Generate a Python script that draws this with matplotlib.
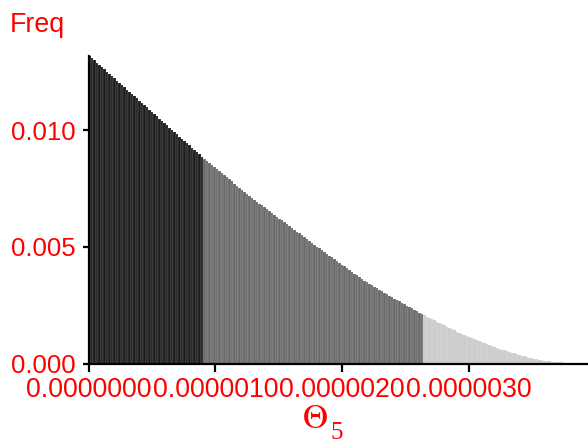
import numpy as np
import matplotlib
matplotlib.use("Agg")
import matplotlib.pyplot as plt

plt.rcParams["font.family"] = ["Liberation Sans", "DejaVu Sans"]
plt.rcParams["mathtext.fontset"] = "stix"

# Histogram of Theta_5: 200 equal-width bins starting at zero
x_max = 0.000003936
n_bins = 200

# Bin heights, in units of 1e-4
freq_e4 = [
    131.70, 130.74, 129.78, 128.83, 127.87, 126.91, 125.95, 124.99, 124.04, 123.08,
    122.12, 121.16, 120.20, 119.25, 118.29, 117.33, 116.37, 115.41, 114.46, 113.50,
    112.54, 111.58, 110.62, 109.67, 108.71, 107.75, 106.79, 105.83, 104.88, 103.92,
    102.96, 102.00, 101.04, 100.09, 99.13, 98.17, 97.21, 96.25, 95.30, 94.34,
    93.38, 92.42, 91.46, 90.51, 89.55, 88.59,
    87.64, 86.76, 85.88, 85.00, 84.12, 83.24, 82.35, 81.47, 80.59, 79.71,
    78.83, 77.95, 77.07, 76.19, 75.31, 74.43, 73.54, 72.66, 71.78, 70.90,
    70.08, 69.28, 68.48, 67.68, 66.88, 66.08, 65.28, 64.48, 63.68, 62.88,
    62.08, 61.28, 60.48, 59.68, 58.88, 58.08, 57.28, 56.48, 55.68, 54.88,
    54.08, 53.28, 52.48, 51.68, 50.88, 50.08,
    49.26, 48.49, 47.72, 46.96, 46.19, 45.42, 44.65, 43.88, 43.12, 42.35,
    41.58, 40.81, 40.04, 39.28, 38.51, 37.74, 36.97, 36.20,
    35.48, 34.84, 34.20, 33.56, 32.92, 32.28, 31.64, 31.00, 30.36, 29.72,
    29.08, 28.44, 27.80,
    27.18, 26.58, 25.99, 25.39, 24.79, 24.20, 23.60, 23.00, 22.40, 21.81, 21.21,
    20.59, 20.06, 19.52, 18.99, 18.46, 17.92, 17.39, 16.86, 16.33, 15.79,
    15.26, 14.73, 14.19, 13.66, 13.13, 12.60,
    12.08, 11.65, 11.23, 10.80, 10.37, 9.95, 9.52, 9.09, 8.66, 8.24,
    7.81, 7.38, 6.96, 6.53,
    6.23, 5.91, 5.59, 5.27, 4.95, 4.63, 4.31, 3.99, 3.67, 3.35, 3.03, 2.71, 2.39,
    2.16, 1.96, 1.77, 1.59, 1.42, 1.26, 1.11, 0.97, 0.84, 0.72, 0.61, 0.51, 0.43,
    0.36, 0.30, 0.25, 0.21, 0.18, 0.15, 0.13, 0.11, 0.09, 0.08,
]

# Interval limits that split the bins into three shaded groups
lower_limit = 0.000000913
upper_limit = 0.000002636

y_ticks = [0.000, 0.005, 0.010]
x_ticks = [0.0, 0.000001, 0.000002, 0.000003]

freq = np.array(freq_e4) * 1e-4
edges = np.linspace(0.0, x_max, n_bins + 1)
width = edges[1] - edges[0]
centers = edges[:-1] + width / 2

colors = np.where(centers < lower_limit, "#1b1b1b",
                  np.where(centers < upper_limit, "#686868", "#cbcbcb"))

W, H, DPI = 588, 444, 100
fig = plt.figure(figsize=(W / DPI, H / DPI), dpi=DPI)
ax_left, ax_right = 88.5, 588.0
ax_bottom, ax_top = 363.5, 56.0
ax = fig.add_axes([ax_left / W, 1 - ax_bottom / H,
                   (ax_right - ax_left) / W, (ax_bottom - ax_top) / H])

ax.bar(edges[:-1], freq, width=width, align="edge", color=colors,
       edgecolor=(1, 1, 1, 0.3), linewidth=0.35)

ax.set_xlim(0, x_max)
ax.set_ylim(0, freq.max())

for s in ["top", "right"]:
    ax.spines[s].set_visible(False)
for s in ["left", "bottom"]:
    ax.spines[s].set_linewidth(1.6)
    ax.spines[s].set_zorder(5)

ax.set_yticks(y_ticks)
ax.set_yticklabels([f"{v:.3f}" for v in y_ticks])
ax.set_xticks(x_ticks)
ax.set_xticklabels([f"{v:.7f}" for v in x_ticks])
ax.tick_params(axis="both", colors="black", labelcolor="red",
               width=1.6, direction="out")
ax.tick_params(axis="y", length=4.3, pad=5, labelsize=18.5)
ax.tick_params(axis="x", length=5.8, pad=4, labelsize=19.3)

fig.text(10 / W, 1 - 31.5 / H, "Freq", color="red", fontsize=19.3,
         ha="left", va="baseline")
# Axis title: Theta with a lowered subscript 5
fig.text(302 / W, 1 - 428 / H, r"$\Theta$", color="red", fontsize=25,
         ha="left", va="baseline")
fig.text(331 / W, 1 - 438.5 / H, "5", color="red", fontsize=18,
         family=["Liberation Serif", "DejaVu Serif"],
         ha="left", va="baseline")

fig.savefig("out.png", dpi=DPI)
